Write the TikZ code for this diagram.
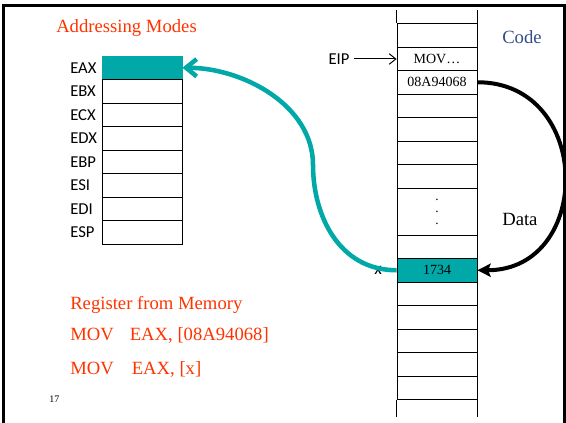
\documentclass[tikz,border=0pt]{standalone}
\usepackage{fontspec}
\setmainfont{Liberation Serif}
\newfontfamily\slidesans{Carlito}
\usepackage{tikz}
\usepackage{xcolor}
\usetikzlibrary{arrows.meta}

\definecolor{regteal}{RGB}{0,168,168}
\definecolor{slidered}{RGB}{255,51,0}
\definecolor{codeblue}{RGB}{51,77,140}

\begin{document}
\begin{tikzpicture}[x=0.75pt, y=-0.75pt,
  regbox/.style={draw, line width=0.6pt, minimum width=60pt, minimum height=17.625pt, inner sep=0pt},
  reglabel/.style={anchor=west, inner sep=0pt, font=\slidesans\fontsize{12.5}{14}\selectfont},
  memcell/.style={draw, line width=0.6pt, minimum width=60pt, minimum height=17.625pt, inner sep=0pt, font=\fontsize{10.5}{12}\selectfont},
  redtext/.style={anchor=base west, inner sep=0pt, text=slidered, font=\fontsize{14}{16}\selectfont},
  bigtext/.style={anchor=base west, inner sep=0pt, font=\fontsize{14}{16}\selectfont}]
\useasboundingbox (0,0) rectangle (566,423);
\draw[line width=2.25pt] (3.5,423) -- (3.5,5.5) -- (564,5.5) -- (564,423);

% registers
\node (r1) at (142,67.75) [regbox, fill=regteal, draw=regteal]{};
\node (r2) at (142,91.25) [regbox]{};
\node (r3) at (142,114.75) [regbox]{};
\node (r4) at (142,138.25) [regbox]{};
\node (r5) at (142,161.75) [regbox]{};
\node (r6) at (142,185.25) [regbox]{};
\node (r7) at (142,208.75) [regbox]{};
\node (r8) at (142,232.25) [regbox]{};

\node (l1) at (70,67.75) [reglabel]{EAX};
\node (l2) at (70,91.25) [reglabel]{EBX};
\node (l3) at (70,114.75) [reglabel]{ECX};
\node (l4) at (70,138.25) [reglabel]{EDX};
\node (l5) at (70,161.75) [reglabel]{EBP};
\node (l6) at (70,185.25) [reglabel]{ESI};
\node (l7) at (70,208.75) [reglabel]{EDI};
\node (l8) at (70,232.25) [reglabel]{ESP};

% memory
\node (m1) at (437,35.25) [memcell]{};
\node (m2) at (437,58.75) [memcell]{MOV\ldots};
\node (m3) at (437,82.25) [memcell]{08A94068};
\node (m4) at (437,105.75) [memcell]{};
\node (m5) at (437,129.25) [memcell]{};
\node (m6) at (437,152.75) [memcell]{};
\node (m7) at (437,176.25) [memcell]{};
\node (md) at (437,211.5) [memcell, minimum height=35.25pt, align=center, font=\fontsize{10}{9}\selectfont]{.\\.\\.};
\node (m8) at (437,246.75) [memcell]{};
\node (m9) at (437,270.25) [memcell, fill=regteal]{1734};
\node (m10) at (437,293.75) [memcell]{};
\node (m11) at (437,317.25) [memcell]{};
\node (m12) at (437,340.75) [memcell]{};
\node (m13) at (437,364.25) [memcell]{};
\node (m14) at (437,387.75) [memcell]{};
\draw[line width=0.6pt] (m1.north west) -- +(0,-13.5);
\draw[line width=0.6pt] (m1.north east) -- +(0,-13.5);
\draw[line width=0.6pt] (m14.south west) -- +(0,17.5);
\draw[line width=0.6pt] (m14.south east) -- +(0,17.5);

\node (eip) at (339,59) [font=\slidesans\fontsize{12.5}{14}\selectfont]{EIP};
\draw[line width=0.75pt, -{Straight Barb[length=5pt,width=8pt]}] (eip.east) -- (eip.east -| m2.west);
\node (xlab) at (378,270) [font=\slidesans\fontsize{13}{14}\selectfont]{x};

% texts
\node (title) at (56,33) [redtext]{Addressing Modes};
\node (code) at (502,44) [bigtext, text=codeblue]{Code};
\node (data) at (502,225.7) [bigtext]{Data};
\node (ins1) at (70,310) [redtext]{Register from Memory};
\node (ins2) at (70,340) [redtext]{MOV\hspace{12pt}EAX, [08A94068]};
\node (ins3) at (70,374) [redtext]{MOV\hspace{13.5pt}EAX, [x]};
\node (pg) at (49,402.7) [anchor=base west, inner sep=0pt, font=\fontsize{7.5}{9}\selectfont]{17};

% arrows
\draw[line width=3pt, -{Stealth[length=10pt,width=10pt,inset=2pt]}] (m3.east) .. controls +(116,0) and +(116,0) .. (m9.east);
\coordinate (bend) at (313,165);
\draw[regteal, line width=3.4pt, -{Straight Barb[length=8pt,width=13pt]}] (m9.west) .. controls +(-58,0) and +(0,50) .. (bend) .. controls +(0,-60) and +(60,0) .. (r1.east);
\end{tikzpicture}
\end{document}
